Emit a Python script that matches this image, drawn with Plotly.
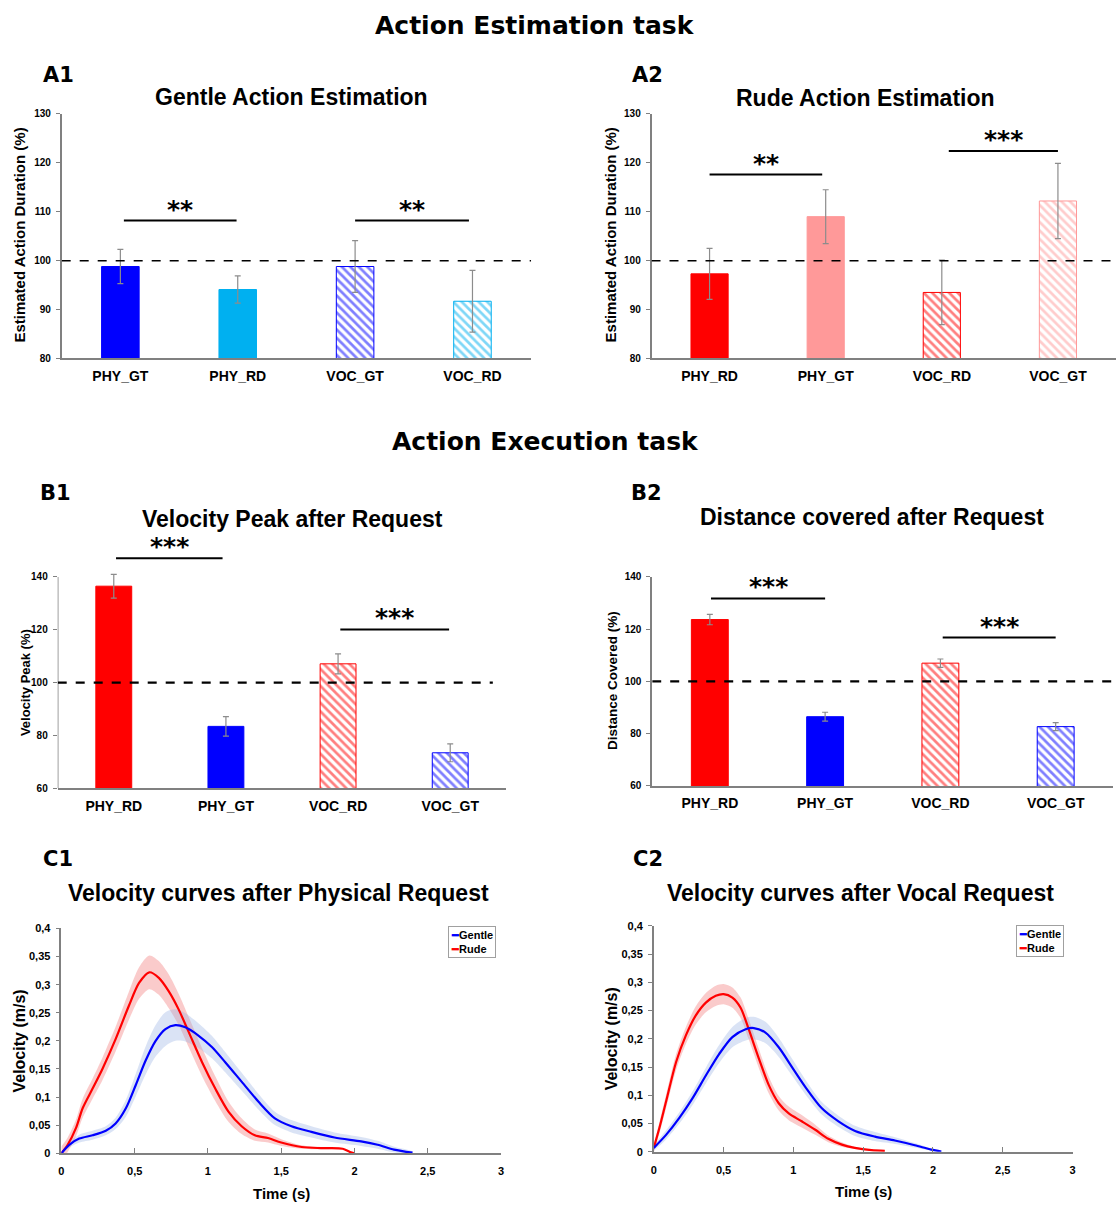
import plotly.graph_objects as go

W, H = 1119, 1210

# ---------------- data ----------------
BASELINE = 100

A1_categories = ["PHY_GT", "PHY_RD", "VOC_GT", "VOC_RD"]
A1_means = [98.8, 94.1, 98.8, 91.7]
A1_sem = [3.5, 2.8, 5.3, 6.3]
A1_sig = [(0.03, 0.99, 108.2, "**"), (2.0, 2.97, 108.2, "**")]

A2_categories = ["PHY_RD", "PHY_GT", "VOC_RD", "VOC_GT"]
A2_means = [97.3, 109.0, 93.5, 112.2]
A2_sem = [5.2, 5.5, 6.6, 7.7]
A2_sig = [(0.0, 0.97, 117.6, "**"), (2.06, 3.0, 122.4, "***")]

B1_categories = ["PHY_RD", "PHY_GT", "VOC_RD", "VOC_GT"]
B1_means = [136.5, 83.4, 107.1, 73.4]
B1_sem = [4.5, 3.7, 3.8, 3.4]
B1_sig = [(0.02, 0.97, 147.1, "***"), (2.02, 2.99, 120.1, "***")]

B2_categories = ["PHY_RD", "PHY_GT", "VOC_RD", "VOC_GT"]
B2_means = [123.7, 86.5, 107.0, 82.7]
B2_sem = [2.0, 1.7, 1.6, 1.5]
B2_sig = [(0.01, 1.0, 131.8, "***"), (2.02, 3.0, 116.8, "***")]

A_ticks = [80, 90, 100, 110, 120, 130]
B_ticks = [60, 80, 100, 120, 140]

C_xticks = [0, 0.5, 1, 1.5, 2, 2.5, 3]
C_xticklabels = ["0", "0,5", "1", "1,5", "2", "2,5", "3"]
C_yticks = [0, 0.05, 0.1, 0.15, 0.2, 0.25, 0.3, 0.35, 0.4]
C_yticklabels = ["0", "0,05", "0,1", "0,15", "0,2", "0,25", "0,3", "0,35", "0,4"]

C1_rude_t = [0, 0.043, 0.1, 0.145, 0.213, 0.28, 0.37, 0.46, 0.53, 0.6, 0.665, 0.733, 0.8,
             0.87, 0.96, 1.05, 1.14, 1.23, 1.32, 1.41, 1.5, 1.64, 1.77, 1.92, 1.97, 2.0]
C1_rude_v = [0, 0.015, 0.045, 0.08, 0.115, 0.15, 0.203, 0.262, 0.303, 0.322, 0.312, 0.288, 0.256,
             0.215, 0.162, 0.115, 0.074, 0.048, 0.032, 0.027, 0.019, 0.011, 0.009, 0.008, 0.002, 0]
C1_rude_sem = [0.012, 0.013, 0.015, 0.017, 0.018, 0.02, 0.022, 0.025, 0.028, 0.03, 0.03, 0.03, 0.028,
               0.027, 0.025, 0.022, 0.018, 0.014, 0.01, 0.008, 0.006, 0.003, 0.002, 0.001, 0.001, 0]

C1_gentle_t = [0, 0.054, 0.122, 0.213, 0.303, 0.37, 0.44, 0.507, 0.575, 0.643, 0.71, 0.778, 0.846,
               0.937, 1.027, 1.118, 1.231, 1.344, 1.457, 1.57, 1.706, 1.864, 2.045, 2.158, 2.27, 2.396]
C1_gentle_v = [0, 0.015, 0.026, 0.032, 0.04, 0.053, 0.08, 0.121, 0.165, 0.2, 0.221, 0.228, 0.224,
               0.209, 0.189, 0.162, 0.127, 0.092, 0.062, 0.048, 0.038, 0.028, 0.021, 0.015, 0.0065, 0.001]
C1_gentle_sem = [0.002, 0.005, 0.007, 0.008, 0.008, 0.01, 0.015, 0.02, 0.025, 0.028, 0.03, 0.028, 0.025,
                 0.022, 0.02, 0.018, 0.016, 0.014, 0.012, 0.011, 0.01, 0.009, 0.008, 0.007, 0.005, 0.002]

C2_rude_t = [0, 0.04, 0.088, 0.16, 0.23, 0.30, 0.373, 0.444, 0.5, 0.563, 0.622, 0.68, 0.753, 0.824,
             0.895, 0.967, 1.06, 1.157, 1.25, 1.347, 1.44, 1.56, 1.655]
C2_rude_v = [0.007, 0.042, 0.089, 0.159, 0.206, 0.241, 0.264, 0.276, 0.279, 0.273, 0.255, 0.217, 0.165,
             0.118, 0.086, 0.068, 0.054, 0.039, 0.023, 0.0128, 0.007, 0.003, 0.0018]
C2_rude_sem = [0.008, 0.01, 0.012, 0.014, 0.015, 0.016, 0.017, 0.018, 0.018, 0.018, 0.018, 0.018, 0.017,
               0.015, 0.013, 0.012, 0.011, 0.009, 0.006, 0.004, 0.002, 0.001, 0.0005]

C2_gentle_t = [0, 0.088, 0.183, 0.278, 0.373, 0.468, 0.563, 0.658, 0.717, 0.8, 0.895, 0.99, 1.085,
               1.204, 1.323, 1.442, 1.584, 1.727, 1.87, 1.988, 2.06]
C2_gentle_v = [0.007, 0.03, 0.06, 0.095, 0.135, 0.173, 0.203, 0.217, 0.219, 0.211, 0.185, 0.15, 0.115,
               0.077, 0.054, 0.037, 0.027, 0.02, 0.0117, 0.004, 0.0006]
C2_gentle_sem = [0.005, 0.008, 0.01, 0.012, 0.014, 0.016, 0.018, 0.02, 0.02, 0.019, 0.017, 0.015, 0.013,
                 0.011, 0.01, 0.009, 0.008, 0.006, 0.004, 0.002, 0.001]

# ---------------- styles ----------------
FONT = "Liberation Sans, Arial, sans-serif"
HEAVY = "DejaVu Sans, sans-serif"
AX = "#808080"
ERR = "#8c8c8c"
BLUE, LBLUE, RED, LRED = "#0000FF", "#00B0F0", "#FF0000", "#FF9999"

A1_colors = [BLUE, LBLUE, BLUE, LBLUE]
A2_colors = [RED, LRED, RED, LRED]
B_colors = [RED, BLUE, RED, BLUE]
PATTERNS = ["", "", "\\", "\\"]


def px(x):
    return x / W


def py(y):
    return 1 - y / H


fig = go.Figure()
annotations = []
shapes = []


def ax_names(n):
    s = "" if n == 1 else str(n)
    return "x" + s, "y" + s, "xaxis" + s, "yaxis" + s


def bar_panel(n, cats, means, sem, colors, sig, xdom, ydom, yrange, yticks,
              dash_end, dash_w, yline_top=None):
    xa, ya, xan, yan = ax_names(n)
    for cat, m, e, c, p in zip(cats, means, sem, colors, PATTERNS):
        if p == "":
            marker = dict(color=c, line=dict(color=c, width=1))
        else:
            marker = dict(color="white", line=dict(color=c, width=1),
                          pattern=dict(shape=p, fgcolor=c, bgcolor="white",
                                       size=6, solidity=0.45, fillmode="overlay"))
        fig.add_trace(go.Bar(
            x=[cat], y=[m], width=0.32, xaxis=xa, yaxis=ya, showlegend=False,
            marker=marker, name=cat,
            error_y=dict(type="data", array=[e], color=ERR, thickness=1.2, width=3),
        ))
    fig.update_layout(**{
        xan: dict(domain=xdom, anchor=ya, type="category", range=[-0.5, 3.5],
                  categoryorder="array", categoryarray=cats,
                  showline=True, linecolor=AX, linewidth=1.5, ticks="",
                  showgrid=False, zeroline=False,
                  tickfont=dict(family=FONT, size=14, color="black", weight="bold"),
                  ticklabelstandoff=4),
        yan: dict(domain=ydom, anchor=xa, range=yrange, tickvals=yticks,
                  showline=yline_top is None, linecolor=AX, linewidth=1.5,
                  ticks="outside", ticklen=4, tickcolor=AX, showgrid=False,
                  zeroline=False,
                  tickfont=dict(family=FONT, size=10, color="black", weight="bold"),
                  ticklabelstandoff=3),
    })
    if yline_top is not None:
        shapes.append(dict(type="line", xref=xa, yref=ya, x0=-0.5, x1=-0.5,
                           y0=yrange[0], y1=yline_top,
                           line=dict(color=AX, width=1.5)))
    shapes.append(dict(type="line", xref=xa, yref=ya, x0=-0.5, x1=dash_end,
                       y0=BASELINE, y1=BASELINE,
                       line=dict(color="black", width=dash_w, dash="dash")))
    for x0, x1, y, lab in sig:
        shapes.append(dict(type="line", xref=xa, yref=ya, x0=x0, x1=x1, y0=y, y1=y,
                           line=dict(color="black", width=2)))
        annotations.append(dict(xref=xa, yref=ya, x=(x0 + x1) / 2, y=y, text=lab,
                                showarrow=False, yanchor="bottom", yshift=-5,
                                font=dict(family=HEAVY, size=25, color="black",
                                          weight="bold")))


bar_panel(1, A1_categories, A1_means, A1_sem, A1_colors, A1_sig,
          [px(59), px(531)], [py(356), py(109)], [80, 130], A_ticks, 3.5, 1.5)
bar_panel(2, A2_categories, A2_means, A2_sem, A2_colors, A2_sig,
          [px(652), 1.0], [py(356), py(109)], [80, 130], A_ticks, 3.5, 1.5)
bar_panel(3, B1_categories, B1_means, B1_sem, B_colors, B1_sig,
          [px(55), px(506)], [py(790), py(550)], [60, 150], B_ticks, 3.38, 2.2,
          yline_top=140)
bar_panel(4, B2_categories, B2_means, B2_sem, B_colors, B2_sig,
          [px(652.7), px(1116.3)], [py(787.7), py(576.7)], [60, 140], B_ticks, 3.5, 2.2)


def curve_panel(n, curves, xdom, ydom, legend_xy):
    xa, ya, xan, yan = ax_names(n)
    for t, v, s, line_c, band_c, name in curves:
        upper = [a + b for a, b in zip(v, s)]
        lower = [a - b for a, b in zip(v, s)]
        fig.add_trace(go.Scatter(
            x=list(t) + list(t)[::-1], y=upper + lower[::-1], xaxis=xa, yaxis=ya,
            fill="toself", fillcolor=band_c, mode="lines",
            line=dict(width=0, shape="spline", smoothing=0.8),
            hoverinfo="skip", showlegend=False))
    for t, v, s, line_c, band_c, name in curves:
        fig.add_trace(go.Scatter(
            x=t, y=v, xaxis=xa, yaxis=ya, mode="lines", name=name,
            line=dict(color=line_c, width=2.2, shape="spline", smoothing=0.8),
            showlegend=False))
    fig.update_layout(**{
        xan: dict(domain=xdom, anchor=ya, range=[0, 3], tickvals=C_xticks,
                  ticktext=C_xticklabels, showline=True, linecolor=AX, linewidth=1.5,
                  ticks="inside", ticklen=5, tickcolor=AX, showgrid=False, zeroline=False,
                  tickfont=dict(family=FONT, size=11, color="black", weight="bold"),
                  ticklabelstandoff=7),
        yan: dict(domain=ydom, anchor=xa, range=[0, 0.4], tickvals=C_yticks,
                  ticktext=C_yticklabels, showline=True, linecolor=AX, linewidth=1.5,
                  ticks="outside", ticklen=4, tickcolor=AX, showgrid=False, zeroline=False,
                  tickfont=dict(family=FONT, size=11, color="black", weight="bold"),
                  ticklabelstandoff=3),
    })
    lx, ly = legend_xy
    legend_text = "".join(
        f"<span style='color:{c[3]}'>━</span>{c[5]}" + ("<br>" if i == 0 else "")
        for i, c in enumerate([curves[1], curves[0]]))
    annotations.append(dict(xref="paper", yref="paper", x=px(lx), y=py(ly),
                            xanchor="right", yanchor="top", text=legend_text,
                            showarrow=False, align="left", bgcolor="white",
                            bordercolor="#a0a0a0", borderwidth=1, borderpad=2,
                            font=dict(family=FONT, size=11, color="black", weight="bold")))


RED_BAND = "rgba(245,140,140,0.45)"
BLUE_BAND = "rgba(150,175,225,0.35)"

curve_panel(5, [(C1_rude_t, C1_rude_v, C1_rude_sem, RED, RED_BAND, "Rude"),
                (C1_gentle_t, C1_gentle_v, C1_gentle_sem, BLUE, BLUE_BAND, "Gentle")],
            [px(58.7), px(500.7)], [py(1158.7), py(931.7)], (496, 929))
curve_panel(6, [(C2_rude_t, C2_rude_v, C2_rude_sem, RED, RED_BAND, "Rude"),
                (C2_gentle_t, C2_gentle_v, C2_gentle_sem, BLUE, BLUE_BAND, "Gentle")],
            [px(654.3), px(1075.3)], [py(1157.3), py(929)], (1067, 928))


def text(t, x, y, size, family=FONT, angle=0, weight="bold"):
    annotations.append(dict(xref="paper", yref="paper", x=px(x), y=py(y), text=t,
                            showarrow=False, xanchor="center", yanchor="middle",
                            textangle=angle,
                            font=dict(family=family, size=size, color="black", weight=weight)))


text("Action Estimation task", 535, 20, 25, HEAVY)
text("Action Execution task", 545, 440, 25, HEAVY)
for lab, x, y in [("A1", 56, 70), ("A2", 648, 70), ("B1", 53, 492), ("B2", 647, 492),
                  ("C1", 55, 862), ("C2", 648, 862)]:
    text(lab, x, y, 21, HEAVY)
text("Gentle Action Estimation", 290.5, 92, 23)
text("Rude Action Estimation", 867, 93, 23)
text("Velocity Peak after Request", 291, 518, 23)
text("Distance covered after Request", 874, 516, 23)
text("Velocity curves after Physical Request", 277, 896, 23)
text("Velocity curves after Vocal Request", 862, 896, 23)
text("Estimated Action Duration (%)", 17, 231, 15, angle=-90)
text("Estimated Action Duration (%)", 611, 231, 15, angle=-90)
text("Velocity Peak (%)", 22, 683, 13, angle=-90)
text("Distance Covered (%)", 613, 681, 13.5, angle=-90)
text("Velocity (m/s)", 17, 1045, 16, angle=-90)
text("Velocity (m/s)", 612, 1043, 16, angle=-90)
text("Time (s)", 280, 1199, 15)
text("Time (s)", 865, 1197, 15)

fig.update_layout(width=W, height=H, margin=dict(l=0, r=0, t=0, b=0),
                  paper_bgcolor="white", plot_bgcolor="white",
                  shapes=shapes, annotations=annotations, barmode="overlay",
                  font=dict(family=FONT))

POST = ("document.body.style.margin='0';"
        "var g=document.getElementById('{plot_id}');"
        "g.style.position='absolute';g.style.left='0px';g.style.top='0px';")

fig.write_html("out.html", post_script=POST, config={"displayModeBar": False})
